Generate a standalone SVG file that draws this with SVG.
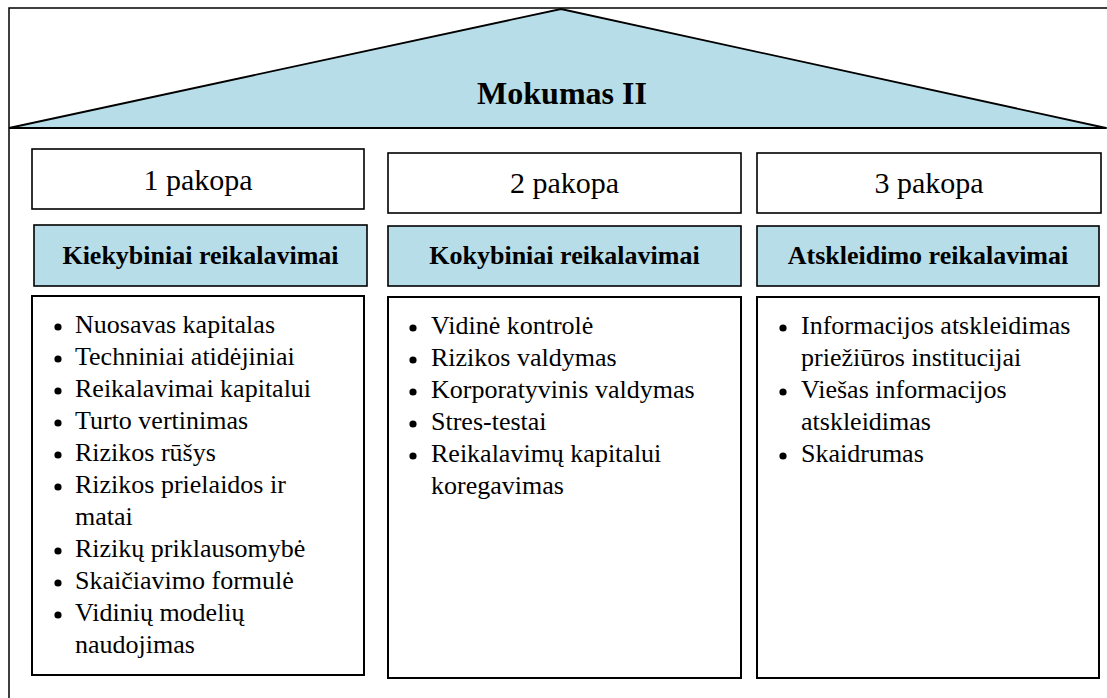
<svg xmlns="http://www.w3.org/2000/svg" width="1107" height="698" viewBox="0 0 1107 698">
<style>
.frame{fill:none;stroke:#000;stroke-width:1.5}
.roof{fill:#b6dde8;stroke:#000;stroke-width:1.8;stroke-linejoin:miter}
.box{fill:#fff;stroke:#000;stroke-width:1.6}
.hdr{fill:#b6dde8;stroke:#000;stroke-width:1.6}
.list{fill:#fff;stroke:#000;stroke-width:2}
.t{font-family:'Liberation Serif','Tinos','Times New Roman','Nimbus Roman','DejaVu Serif',serif;fill:#000}
.title{font-size:32px;font-weight:bold}
.step{font-size:30px}
.head{font-size:26px;font-weight:bold}
.item{font-size:26px}
.dot{fill:#000}
</style>
<rect width="1107" height="698" fill="#fff"/>
<g id="frame">
<path class="frame" d="M9,698 V8 H1107"/>
</g>
<g id="roof">
<polygon class="roof" points="9,128 561,9 1106,128"/>
<line class="frame" x1="9" y1="128" x2="1107" y2="128"/>
<text class="t title" x="562" y="104" text-anchor="middle" font-family="Liberation Serif, serif">Mokumas II</text>
</g>
<g id="step1">
<rect class="box" x="32" y="149" width="332" height="60"/>
<text class="t step" x="198" y="190" text-anchor="middle">1 pakopa</text>
</g>
<g id="step2">
<rect class="box" x="388" y="153" width="353" height="60"/>
<text class="t step" x="564.5" y="193" text-anchor="middle">2 pakopa</text>
</g>
<g id="step3">
<rect class="box" x="757" y="153" width="344" height="60"/>
<text class="t step" x="929" y="193" text-anchor="middle">3 pakopa</text>
</g>
<g id="head1">
<rect class="hdr" x="34" y="225" width="333" height="61"/>
<text class="t head" x="200.5" y="264" text-anchor="middle">Kiekybiniai reikalavimai</text>
</g>
<g id="head2">
<rect class="hdr" x="388" y="226" width="353" height="60"/>
<text class="t head" x="564.5" y="264" text-anchor="middle">Kokybiniai reikalavimai</text>
</g>
<g id="head3">
<rect class="hdr" x="757" y="226" width="342" height="60"/>
<text class="t head" x="928" y="264" text-anchor="middle">Atskleidimo reikalavimai</text>
</g>
<g id="list1">
<rect class="list" x="32" y="296" width="332" height="379"/>
<circle class="dot" cx="58" cy="327" r="3.6"/>
<circle class="dot" cx="58" cy="359" r="3.6"/>
<circle class="dot" cx="58" cy="391" r="3.6"/>
<circle class="dot" cx="58" cy="423" r="3.6"/>
<circle class="dot" cx="58" cy="455" r="3.6"/>
<circle class="dot" cx="58" cy="487" r="3.6"/>
<circle class="dot" cx="58" cy="551" r="3.6"/>
<circle class="dot" cx="58" cy="583" r="3.6"/>
<circle class="dot" cx="58" cy="615" r="3.6"/>
<text class="t item" x="75" y="333">Nuosavas kapitalas</text>
<text class="t item" x="75" y="365">Techniniai atidėjiniai</text>
<text class="t item" x="75" y="397">Reikalavimai kapitalui</text>
<text class="t item" x="75" y="429">Turto vertinimas</text>
<text class="t item" x="75" y="461">Rizikos rūšys</text>
<text class="t item" x="75" y="493">Rizikos prielaidos ir</text>
<text class="t item" x="75" y="525">matai</text>
<text class="t item" x="75" y="557">Rizikų priklausomybė</text>
<text class="t item" x="75" y="589">Skaičiavimo formulė</text>
<text class="t item" x="75" y="621">Vidinių modelių</text>
<text class="t item" x="75" y="653">naudojimas</text>
</g>
<g id="list2">
<rect class="list" x="388" y="297" width="353" height="381"/>
<circle class="dot" cx="413" cy="328" r="3.6"/>
<circle class="dot" cx="413" cy="360" r="3.6"/>
<circle class="dot" cx="413" cy="392" r="3.6"/>
<circle class="dot" cx="413" cy="424" r="3.6"/>
<circle class="dot" cx="413" cy="456" r="3.6"/>
<text class="t item" x="431" y="334">Vidinė kontrolė</text>
<text class="t item" x="431" y="366">Rizikos valdymas</text>
<text class="t item" x="431" y="398">Korporatyvinis valdymas</text>
<text class="t item" x="431" y="430">Stres-testai</text>
<text class="t item" x="431" y="462">Reikalavimų kapitalui</text>
<text class="t item" x="431" y="494">koregavimas</text>
</g>
<g id="list3">
<rect class="list" x="757" y="297" width="342" height="381"/>
<circle class="dot" cx="783" cy="328" r="3.6"/>
<circle class="dot" cx="783" cy="392" r="3.6"/>
<circle class="dot" cx="783" cy="456" r="3.6"/>
<text class="t item" x="801" y="334">Informacijos atskleidimas</text>
<text class="t item" x="801" y="366">priežiūros institucijai</text>
<text class="t item" x="801" y="398">Viešas informacijos</text>
<text class="t item" x="801" y="430">atskleidimas</text>
<text class="t item" x="801" y="462">Skaidrumas</text>
</g>
<g id="connectors"></g>
</svg>
